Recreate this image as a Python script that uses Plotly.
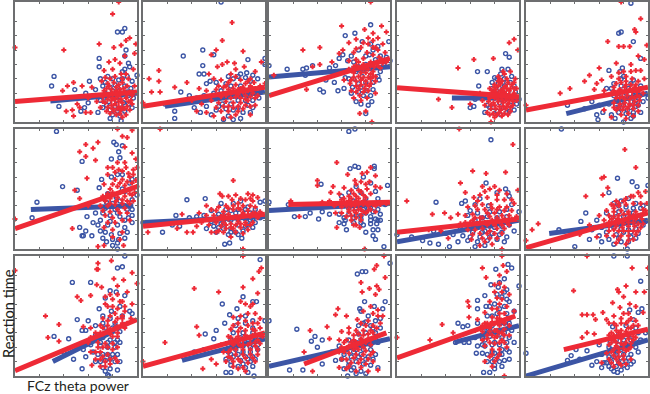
import plotly.graph_objects as go

# Values, in axis units (0-100 on both axes), as (power, RT) pairs.
B1 = [(84,75),(88,75),(90,78),(91,60),(69,53),(69,46),(32,38),(30,30),(36,13),(61,34),(49,27),(54,9),(100,39),(93,49),(90,44),(87,1),(90,55),(94,46),(88,42),(76,38),(70,36),(80,36),(85,35),(92,38),(96,34),(72,30),(78,29),(66,27),(84,29),(90,30),(95,28),(58,24),(64,22),(74,24),(81,23),(87,24),(93,22),(70,18),(77,17),(83,18),(89,16),(96,12),(72,12),(78,10),(84,9),(90,9),(80,6),(86,5),(57,12),(60,16),(97,20),(68,8)]
R1 = [(85,100),(80,90),(0,62),(40,60),(69,65),(91,68),(94,70),(99,65),(81,62),(87,64),(98,57),(90,55),(77,50),(82,52),(86,49),(48,33),(43,30),(39,26),(55,30),(63,29),(42,9),(48,5),(47,10),(58,8),(62,8),(51,15),(53,12),(73,43),(80,44),(87,40),(93,36),(97,44),(71,34),(76,32),(81,33),(85,31),(88,33),(92,30),(75,28),(79,27),(83,26),(86,27),(90,25),(94,25),(98,30),(72,21),(77,22),(80,20),(84,21),(87,19),(91,20),(95,18),(74,16),(79,14),(82,15),(85,13),(88,12),(92,13),(70,12),(75,9),(81,9),(86,7),(91,6),(67,17),(60,20)]
B2 = [(64,100),(49,60),(58,56),(33,55),(49,47),(86,52),(100,53),(100,48),(46,40),(50,40),(31,25),(26,9),(26,3),(85,41),(52,32),(55,34),(60,33),(70,38),(78,38),(84,37),(90,39),(94,36),(18,15),(38,22),(44,20),(50,22),(58,24),(64,26),(72,30),(80,30),(88,28),(94,27),(42,12),(47,8),(52,13),(56,6),(60,10),(65,15),(70,5),(74,10),(78,18),(82,8),(86,14),(90,18),(66,2),(74,2),(80,3),(88,8),(34,17),(95,20)]
R2 = [(73,83),(65,68),(60,60),(82,59),(56,56),(13,43),(5,36),(13,34),(7,25),(14,25),(26,29),(36,33),(0,16),(54,40),(61,46),(65,48),(69,50),(75,49),(76,44),(83,46),(97,50),(92,42),(72,40),(80,35),(86,34),(91,33),(58,36),(64,35),(70,33),(76,31),(82,29),(88,30),(46,28),(52,26),(60,27),(66,24),(72,25),(78,23),(84,22),(90,24),(94,22),(40,18),(48,15),(56,18),(62,16),(68,17),(74,16),(80,16),(86,18),(92,14),(44,9),(52,8),(58,5),(64,9),(70,9),(76,6),(82,11),(66,3),(88,6),(100,32)]
B3 = [(84,81),(71,74),(63,72),(99,67),(15,44),(31,45),(28,44),(36,47),(0,47),(42,27),(45,25),(57,26),(72,17),(80,7),(85,17),(100,51),(77,67),(84,65),(90,63),(74,60),(61,56),(68,55),(58,53),(65,51),(83,56),(92,55),(97,54),(50,45),(55,47),(60,42),(67,43),(74,46),(80,48),(88,47),(95,48),(47,35),(54,33),(63,37),(70,36),(77,38),(84,39),(90,38),(62,28),(69,29),(76,29),(81,26),(86,27),(91,35),(78,22),(84,22),(30,39)]
R3 = [(60,80),(28,60),(42,62),(84,100),(85,0),(75,7),(80,9),(93,80),(31,27),(4,39),(97,75),(66,66),(72,69),(79,77),(86,74),(90,70),(94,65),(82,70),(88,62),(61,60),(58,57),(70,58),(76,62),(81,58),(86,56),(91,54),(96,58),(36,46),(42,48),(52,50),(66,51),(72,52),(78,53),(84,50),(89,50),(94,49),(66,44),(70,41),(74,45),(78,44),(82,44),(86,42),(92,45),(62,35),(67,32),(72,34),(76,35),(80,34),(84,36),(88,34),(68,26),(72,25),(75,22),(79,28),(83,30),(70,20),(88,24)]
B4 = [(89,57),(92,54),(66,42),(74,42),(67,30),(86,44),(91,44),(60,12),(63,13),(100,19),(80,37),(85,40),(94,38),(78,28),(83,32),(90,33),(96,30),(76,20),(81,24),(86,26),(91,25),(95,21),(98,15),(74,14),(79,12),(84,16),(88,18),(93,14),(80,7),(85,6),(90,8),(72,8),(96,10),(70,22),(64,19)]
R4 = [(77,0),(63,52),(79,53),(50,45),(34,19),(45,12),(96,69),(92,66),(99,60),(60,15),(88,40),(93,42),(97,36),(84,36),(90,36),(80,31),(85,32),(89,30),(94,31),(98,28),(76,28),(81,27),(85,26),(88,25),(92,26),(96,24),(74,23),(78,22),(82,22),(86,21),(90,20),(94,20),(98,18),(75,17),(79,16),(83,17),(87,16),(91,15),(95,14),(72,14),(77,11),(81,11),(85,10),(89,11),(93,9),(82,6),(86,5),(76,6),(70,18),(68,24),(80,4)]
B5 = [(86,99),(76,74),(78,75),(88,67),(94,53),(68,43),(77,42),(79,45),(34,14),(59,2),(58,6),(80,0),(80,38),(88,35),(94,30),(100,20),(72,32),(78,30),(84,28),(90,25),(66,28),(72,22),(78,20),(84,20),(90,18),(96,17),(60,14),(68,15),(74,12),(80,14),(86,12),(92,14),(63,8),(70,6),(76,8),(82,7),(88,8),(94,8),(48,11),(54,17),(73,3),(86,3)]
R5 = [(78,100),(94,86),(89,77),(90,75),(99,64),(67,67),(76,63),(80,63),(85,63),(28,24),(36,28),(48,34),(52,39),(60,45),(74,49),(0,14),(92,55),(97,52),(86,48),(90,43),(94,43),(62,35),(58,32),(56,27),(64,26),(70,38),(76,36),(82,34),(87,36),(92,34),(97,36),(72,29),(77,27),(81,29),(85,27),(89,29),(93,26),(70,24),(75,23),(79,21),(83,22),(87,21),(91,22),(96,24),(72,16),(77,15),(81,16),(85,15),(89,17),(93,18),(74,10),(79,10),(83,11),(88,11),(64,10),(70,4),(82,3),(92,9)]
B6 = [(34,98),(55,73),(39,52),(18,39),(14,26),(81,89),(83,87),(88,86),(79,75),(84,0),(51,49),(85,81),(86,76),(55,11),(56,11),(53,18),(58,15),(63,11),(64,22),(59,27),(66,30),(75,39),(83,43),(90,48),(94,55),(88,62),(79,60),(71,58),(69,51),(96,41),(100,45),(74,34),(82,33),(90,36),(96,33),(70,24),(78,28),(86,27),(93,26),(70,15),(76,20),(84,20),(90,18),(96,22),(72,9),(79,12),(85,8),(75,6),(80,3),(84,5),(90,9),(68,20)]
R6 = [(84,100),(96,99),(68,89),(58,87),(53,81),(64,84),(58,77),(66,74),(59,59),(49,49),(47,17),(68,2),(73,3),(89,3),(0,25),(92,93),(88,94),(90,85),(96,80),(99,75),(100,68),(97,62),(80,68),(85,66),(91,68),(76,62),(82,58),(88,58),(94,60),(99,57),(73,54),(78,50),(84,52),(90,53),(95,50),(100,52),(72,44),(78,42),(84,43),(90,44),(96,45),(70,36),(76,36),(82,37),(88,38),(94,38),(74,28),(80,26),(86,30),(92,30),(73,18),(80,16),(88,14),(60,36),(53,42)]
B7 = [(16,14),(36,41),(51,42),(27,28),(67,4),(71,5),(81,9),(96,39),(100,40),(64,38),(0,22),(38,26),(44,27),(50,28),(56,23),(62,29),(68,33),(74,38),(80,40),(86,35),(92,33),(58,19),(64,21),(70,25),(76,30),(82,28),(88,24),(94,28),(52,17),(60,14),(66,17),(72,17),(78,20),(84,19),(90,18),(56,32),(70,12),(76,14),(82,15),(24,20),(30,19),(96,26)]
R7 = [(14,100),(82,0),(74,57),(4,14),(28,17),(36,14),(41,14),(63,46),(90,45),(32,29),(65,44),(80,42),(86,46),(94,43),(73,41),(78,38),(84,41),(90,40),(52,36),(56,33),(62,35),(68,36),(74,33),(80,33),(86,32),(92,35),(96,31),(46,30),(52,28),(58,28),(64,27),(70,29),(76,27),(82,27),(88,27),(94,26),(48,22),(54,20),(60,22),(66,22),(72,21),(78,23),(84,22),(90,22),(56,14),(62,15),(68,17),(74,17),(80,18),(86,16),(44,19),(72,10)]
B8 = [(66,98),(71,100),(71,69),(67,67),(74,68),(87,69),(87,67),(43,54),(98,53),(16,37),(21,27),(41,25),(86,11),(95,2),(64,16),(58,22),(62,21),(0,39),(78,60),(84,55),(72,52),(76,47),(88,48),(66,47),(60,44),(70,40),(80,42),(90,42),(96,37),(54,37),(62,36),(72,34),(82,34),(90,33),(44,31),(50,29),(58,29),(66,29),(76,28),(84,27),(92,29),(34,30),(30,27),(63,24),(70,22),(76,22),(84,21),(89,21),(90,16),(78,20),(88,25),(92,24)]
R8 = [(56,72),(84,68),(40,57),(40,53),(25,27),(79,0),(56,18),(65,62),(77,63),(81,64),(88,61),(53,52),(51,47),(18,40),(71,57),(76,56),(83,56),(88,52),(92,51),(62,51),(68,49),(74,49),(81,50),(58,46),(66,44),(72,44),(78,45),(84,46),(60,41),(66,40),(72,40),(78,40),(84,38),(90,38),(97,38),(44,39),(50,40),(54,36),(60,35),(66,33),(71,36),(76,33),(82,32),(68,28),(72,26),(76,28),(80,30),(70,20),(75,18),(55,30),(64,27),(88,31)]
B9 = [(77,91),(73,55),(32,39),(89,50),(91,47),(92,44),(53,38),(56,40),(68,42),(82,47),(0,12),(21,7),(27,5),(34,4),(43,2),(96,15),(64,37),(75,36),(94,37),(100,31),(58,28),(66,30),(74,27),(82,26),(90,27),(52,17),(60,19),(68,20),(76,19),(84,21),(92,20),(46,12),(54,11),(62,14),(70,14),(78,13),(86,14),(50,6),(58,7),(66,6),(74,7),(82,8),(90,10),(40,13),(30,15),(12,10),(64,2),(72,3)]
R9 = [(51,100),(95,87),(62,65),(73,63),(89,64),(52,55),(8,40),(29,29),(39,30),(99,49),(80,52),(56,47),(63,43),(86,0),(76,50),(84,49),(90,46),(68,45),(74,43),(82,41),(88,41),(94,41),(58,35),(64,36),(70,37),(77,37),(84,35),(90,35),(96,38),(44,26),(50,29),(56,28),(62,29),(68,26),(74,30),(80,30),(86,28),(92,28),(52,21),(60,22),(66,21),(72,22),(78,24),(84,23),(90,22),(58,16),(64,16),(70,17),(76,15),(82,17),(88,17),(70,9),(76,9),(82,9),(68,3),(26,16),(36,15),(42,9),(61,8)]
B10 = [(29,100),(75,59),(87,56),(91,52),(100,53),(68,47),(49,30),(45,23),(40,2),(83,0),(27,16),(58,24),(66,30),(72,38),(78,40),(84,42),(90,38),(96,36),(62,18),(70,26),(76,31),(82,30),(88,30),(94,28),(54,16),(60,11),(66,14),(72,18),(78,22),(84,23),(90,21),(96,20),(62,6),(68,8),(74,12),(80,14),(86,14),(92,13),(72,4),(78,6),(84,6),(90,9),(52,8)]
R10 = [(81,83),(90,68),(62,59),(64,60),(49,44),(67,51),(63,45),(10,21),(5,16),(0,7),(98,48),(92,47),(86,44),(80,40),(74,40),(70,37),(76,36),(82,37),(88,38),(94,38),(99,38),(60,28),(66,32),(72,31),(78,32),(84,31),(90,31),(96,33),(64,24),(70,25),(75,25),(80,24),(85,26),(90,25),(95,25),(56,18),(62,19),(68,19),(74,19),(79,18),(84,19),(89,19),(94,18),(58,10),(66,11),(72,11),(78,11),(84,11),(90,12),(74,5),(82,4),(52,20),(44,12)]
B11 = [(47,78),(62,78),(90,100),(84,90),(88,91),(32,33),(44,31),(51,47),(69,56),(55,6),(77,0),(78,71),(83,70),(74,65),(90,67),(94,54),(86,58),(79,54),(96,52),(72,50),(60,46),(66,42),(55,38),(58,38),(74,40),(82,44),(90,43),(86,37),(66,34),(72,32),(78,30),(84,30),(62,26),(70,25),(76,24),(82,24),(56,22),(64,20),(72,18),(80,18),(58,16),(66,12),(74,13),(82,12),(72,7),(78,6),(84,5),(48,14),(40,20),(76,1)]
R11 = [(0,88),(25,50),(36,43),(27,32),(36,29),(68,94),(67,89),(68,89),(79,96),(96,86),(100,77),(81,81),(89,80),(51,66),(54,63),(62,67),(67,76),(71,74),(63,9),(70,8),(84,75),(74,66),(80,64),(88,62),(92,70),(96,60),(84,56),(90,54),(95,48),(76,58),(72,48),(78,50),(84,48),(70,42),(76,42),(82,40),(88,44),(56,41),(62,40),(66,36),(72,35),(78,35),(84,36),(60,28),(68,28),(74,27),(80,27),(62,20),(70,20),(76,18),(66,14),(74,12),(82,15),(78,10)]
B12 = [(96,97),(65,60),(90,62),(93,62),(82,66),(71,51),(77,56),(67,44),(60,38),(51,35),(58,31),(33,16),(68,3),(91,0),(100,46),(84,50),(90,46),(76,42),(82,36),(90,36),(95,33),(72,30),(78,28),(84,28),(90,26),(70,20),(76,22),(82,20),(88,20),(94,22),(68,14),(74,16),(80,13),(86,14),(92,14),(72,9),(78,8),(84,7),(90,8),(72,3),(86,3),(42,20),(50,22)]
R12 = [(82,100),(95,87),(97,90),(42,73),(62,70),(18,28),(44,41),(46,34),(60,10),(49,6),(0,12),(82,74),(90,81),(94,69),(74,49),(88,58),(80,62),(92,52),(96,48),(78,44),(84,46),(90,44),(72,39),(78,37),(84,38),(90,39),(96,40),(70,33),(76,31),(82,30),(88,31),(94,30),(98,33),(68,27),(74,26),(80,25),(86,26),(92,25),(96,27),(70,20),(76,18),(82,18),(88,18),(94,18),(68,12),(74,12),(80,12),(86,11),(92,12),(78,6),(84,4),(56,14),(64,26)]
B13 = [(100,94),(73,85),(77,87),(80,87),(96,62),(79,62),(75,56),(76,54),(23,39),(38,33),(35,29),(44,30),(40,24),(44,10),(17,5),(28,5),(65,0),(0,46),(87,58),(94,56),(55,13),(82,50),(88,46),(92,48),(78,44),(84,42),(74,35),(80,36),(88,36),(66,30),(72,28),(78,26),(84,26),(90,28),(58,25),(64,22),(70,20),(76,18),(82,16),(88,18),(60,14),(66,12),(72,12),(78,10),(84,9),(62,6),(68,5),(76,4),(80,2),(90,7),(52,20)]
R13 = [(95,100),(87,89),(89,92),(96,82),(76,78),(89,75),(83,73),(91,72),(77,70),(88,68),(57,56),(55,51),(64,50),(48,41),(34,38),(50,31),(29,20),(36,4),(73,47),(82,46),(90,50),(86,52),(94,50),(60,37),(66,36),(72,38),(78,38),(84,38),(89,40),(58,30),(64,30),(70,30),(76,31),(82,31),(88,32),(60,24),(66,25),(72,24),(78,24),(84,26),(66,19),(72,18),(78,18),(84,18),(60,14),(68,11),(74,11),(80,10),(86,12),(58,7),(64,6),(72,4),(82,4),(90,5)]
B14 = [(81,89),(91,93),(94,90),(100,75),(77,76),(83,74),(72,67),(66,63),(66,56),(73,58),(50,44),(54,41),(58,42),(48,28),(55,28),(59,28),(71,3),(76,3),(80,6),(86,8),(65,19),(70,19),(88,81),(90,72),(86,66),(92,62),(80,60),(74,50),(82,52),(90,52),(96,54),(66,44),(72,40),(78,42),(84,44),(92,44),(64,32),(70,32),(76,33),(82,34),(88,36),(94,38),(66,25),(72,25),(78,26),(84,26),(90,28),(96,28),(74,18),(80,19),(86,18),(92,20),(78,12),(84,12),(88,13),(80,9)]
R14 = [(86,100),(70,90),(87,92),(73,82),(84,84),(58,62),(59,58),(59,49),(37,43),(46,36),(27,30),(88,0),(0,32),(90,87),(84,77),(88,74),(80,70),(86,64),(92,68),(76,62),(82,56),(90,58),(96,54),(72,53),(78,49),(84,48),(90,48),(66,47),(72,44),(78,45),(84,42),(88,44),(64,38),(70,37),(76,37),(82,38),(88,39),(74,31),(80,32),(86,30),(72,25),(78,22),(84,22),(90,24),(76,16),(82,15),(78,8),(92,34)]
B15 = [(94,79),(83,100),(72,100),(95,56),(85,55),(34,13),(37,17),(41,22),(54,9),(75,3),(70,6),(83,7),(50,21),(60,26),(69,28),(71,41),(88,47),(0,19),(92,53),(82,42),(90,40),(76,35),(84,34),(92,36),(98,36),(70,22),(76,26),(82,26),(88,27),(94,30),(62,18),(68,16),(74,18),(80,18),(86,18),(92,20),(58,12),(64,11),(70,12),(76,11),(82,12),(88,12),(62,7),(68,8),(78,5),(44,14)]
R15 = [(50,100),(87,90),(100,90),(39,71),(46,51),(50,51),(55,51),(57,47),(63,53),(46,32),(50,36),(56,35),(75,72),(82,75),(97,70),(90,70),(71,61),(77,57),(85,60),(66,47),(62,11),(76,70),(80,66),(84,52),(90,46),(96,53),(72,50),(78,48),(68,44),(74,42),(82,44),(86,40),(92,42),(70,36),(76,36),(82,37),(88,36),(72,30),(78,31),(84,31),(90,32),(68,26),(74,25),(80,26),(86,27),(70,20),(76,20),(82,21),(68,14),(74,14),(80,14),(86,14),(72,8),(78,9),(60,28),(66,19)]

# Further marks from the dense part of each panel
XB1 = [(74,33),(82,31),(88,36),(73,20),(80,26),(86,21),(92,25),(75,14),(82,13),(88,12),(93,15),(78,3),(85,11),(67,22)]
XR1 = [(73,26),(77,30),(80,24),(83,29),(86,23),(89,28),(92,23),(96,22),(76,19),(79,18),(82,19),(85,17),(88,16),(93,17),(96,15),(72,17),(76,12),(80,11),(84,11),(87,10),(90,11),(94,10),(78,7),(83,6),(88,4),(74,37),(82,38),(88,36),(78,36),(91,40)]
XB2 = [(62,20),(68,22),(74,22),(80,24),(86,22),(92,24),(62,13),(68,11),(72,15),(78,12),(84,18),(90,12),(68,32),(74,36),(80,40),(88,34)]
XR2 = [(68,30),(72,35),(76,38),(80,28),(84,32),(88,36),(92,28),(96,30),(62,30),(66,29),(70,27),(74,28),(78,27),(82,25),(86,26),(90,28),(64,21),(68,22),(72,20),(76,21),(80,20),(84,19),(88,21),(92,20),(60,12),(66,13),(70,13),(74,12),(78,13),(84,14),(88,13),(72,4),(78,9)]
XB3 = [(70,50),(78,43),(84,45),(88,52),(72,42),(80,33),(86,33),(92,42),(66,36),(74,32),(80,55),(86,60),(68,24),(74,25),(82,14),(76,15)]
XR3 = [(70,46),(74,50),(78,48),(80,46),(84,47),(87,46),(90,47),(93,52),(97,50),(72,47),(76,41),(80,41),(84,40),(88,38),(70,37),(74,38),(78,37),(82,37),(86,38),(68,35),(72,30),(76,31),(80,31),(84,32),(74,28),(78,25),(82,26),(86,62),(90,60),(82,65),(78,66),(72,61),(86,68),(76,18),(81,20)]
XB4 = [(82,36),(88,36),(93,33),(78,33),(84,28),(88,30),(80,20),(84,22),(92,20),(97,25),(76,12),(82,9),(87,12),(92,9)]
XR4 = [(83,34),(86,34),(91,33),(96,33),(78,26),(80,29),(83,30),(87,28),(90,28),(93,28),(96,28),(78,24),(80,25),(83,24),(86,24),(89,23),(92,23),(95,22),(97,21),(76,20),(80,20),(83,19),(86,19),(89,18),(92,18),(95,17),(77,14),(80,14),(84,13),(87,13),(90,13),(93,12),(74,8),(79,7),(84,8),(88,7),(91,6),(83,38),(87,42)]
XB5 = [(76,24),(82,24),(88,22),(92,20),(74,17),(80,18),(86,17),(90,13),(76,12),(83,10),(88,5),(70,28),(86,32),(78,36)]
XR5 = [(74,32),(78,33),(82,31),(86,31),(90,31),(94,28),(72,26),(76,26),(79,25),(83,25),(87,25),(91,25),(74,20),(77,20),(81,19),(85,19),(89,20),(93,21),(72,12),(76,12),(80,13),(84,13),(88,14),(92,14),(78,6),(84,7),(88,5),(80,42),(86,42),(76,41),(82,38)]
XB6 = [(76,46),(80,38),(86,40),(92,33),(72,30),(78,23),(84,30),(90,24),(96,28),(74,14),(80,8),(86,13),(92,14),(88,50),(96,58),(84,62)]
XR6 = [(76,68),(82,64),(88,65),(93,63),(97,66),(80,54),(86,55),(92,56),(96,55),(76,46),(80,47),(86,47),(90,49),(94,46),(98,47),(74,40),(78,38),(83,40),(88,41),(92,40),(97,40),(72,32),(78,31),(84,33),(90,34),(76,22),(82,22),(88,24),(94,24),(80,10),(86,8),(90,72),(84,72)]
XB7 = [(60,24),(66,28),(72,32),(78,33),(84,33),(88,30),(66,22),(72,24),(78,25),(84,25),(90,25),(62,18),(72,14),(78,12),(86,20),(92,22)]
XR7 = [(60,32),(66,31),(70,34),(74,36),(78,34),(82,36),(88,36),(92,30),(62,25),(66,28),(70,25),(74,26),(78,25),(82,30),(86,28),(90,30),(64,19),(68,20),(72,18),(76,20),(80,21),(84,20),(88,20),(76,14),(82,13),(60,14),(66,14),(70,44),(76,45),(88,42)]
XB8 = [(68,38),(74,36),(80,30),(86,31),(66,34),(72,28),(78,33),(84,35),(62,26),(70,26),(76,25),(84,24),(90,24),(80,14),(86,16),(88,8)]
XR8 = [(64,36),(68,36),(70,38),(74,37),(78,37),(82,36),(86,37),(62,42),(68,42),(74,42),(80,43),(70,46),(76,48),(66,31),(70,32),(74,33),(78,31),(84,33),(88,36),(68,24),(72,30),(76,24),(72,20),(60,30),(64,39),(92,37),(72,54),(80,54)]
XB9 = [(64,24),(70,26),(76,31),(84,31),(90,33),(66,18),(72,15),(80,18),(86,19),(92,23),(60,10),(68,10),(76,10),(84,12),(88,6),(60,32)]
XR9 = [(66,33),(72,33),(78,34),(82,33),(88,32),(94,32),(64,26),(70,26),(76,27),(82,26),(88,25),(94,25),(98,27),(56,22),(62,24),(68,22),(74,20),(80,20),(86,20),(92,20),(62,12),(68,13),(74,13),(80,13),(86,13),(72,6),(78,4),(72,48),(70,52),(82,45),(66,40)]
XB10 = [(76,36),(82,35),(88,34),(94,34),(74,27),(80,27),(86,26),(92,25),(98,23),(72,24),(78,17),(84,16),(90,17),(66,20),(76,9),(86,10)]
XR10 = [(72,36),(76,38),(82,42),(88,44),(94,44),(72,34),(76,28),(80,29),(84,29),(88,28),(92,28),(98,32),(68,28),(72,27),(76,22),(80,21),(84,22),(88,22),(92,21),(96,21),(68,15),(72,16),(76,15),(80,15),(84,15),(88,15),(92,15),(76,8),(84,7),(88,8),(68,22)]
XB11 = [(76,36),(80,40),(84,40),(88,50),(72,44),(78,48),(70,28),(76,28),(82,28),(86,28),(68,18),(76,18),(84,18),(70,12),(78,14),(74,4),(86,12)]
XR11 = [(84,68),(78,68),(74,60),(80,58),(86,62),(90,58),(82,52),(88,50),(76,46),(82,45),(88,48),(92,44),(72,40),(78,39),(84,41),(90,40),(70,36),(76,38),(80,33),(84,33),(68,24),(72,24),(76,24),(80,22),(84,24),(66,20),(72,16),(78,14),(84,12),(70,14),(74,8),(62,32)]
XB12 = [(78,48),(84,44),(90,40),(74,36),(80,32),(86,32),(92,30),(70,26),(76,26),(82,25),(88,24),(94,26),(72,18),(78,18),(84,16),(90,16),(72,12),(82,10),(88,12)]
XR12 = [(84,60),(90,60),(86,52),(80,50),(94,44),(74,42),(80,40),(86,42),(92,38),(72,32),(78,33),(84,34),(90,34),(96,34),(74,28),(78,27),(82,26),(88,27),(92,28),(72,22),(76,22),(82,22),(88,22),(94,22),(72,15),(78,14),(84,15),(90,15),(74,8),(82,7),(70,16),(66,20)]
XB13 = [(74,42),(80,45),(86,40),(92,40),(70,28),(76,30),(82,30),(88,30),(66,24),(72,22),(78,22),(84,22),(62,18),(68,16),(74,16),(80,14),(70,7),(86,14),(66,9),(72,2)]
XR13 = [(78,54),(84,58),(90,55),(76,44),(80,42),(86,42),(92,44),(66,40),(70,34),(74,35),(78,34),(82,35),(86,36),(62,28),(68,28),(72,28),(76,27),(80,28),(84,30),(58,20),(62,20),(70,22),(74,22),(80,21),(86,20),(64,14),(70,15),(76,14),(82,14),(66,8),(76,7)]
XB14 = [(78,50),(84,56),(88,58),(92,48),(76,40),(82,38),(88,44),(70,26),(74,36),(80,28),(86,32),(92,32),(72,30),(78,20),(84,18),(90,22),(74,12),(80,14),(86,22),(92,14),(84,78),(88,70),(90,64),(82,68),(76,58)]
XR14 = [(80,76),(86,70),(82,65),(84,60),(78,56),(82,48),(86,46),(74,44),(80,44),(84,52),(88,52),(70,42),(76,40),(80,38),(84,36),(88,34),(74,34),(78,34),(82,33),(86,36),(70,30),(76,28),(80,27),(84,28),(88,28),(78,18),(84,18),(72,12),(80,12),(92,42)]
XB15 = [(74,30),(80,30),(86,30),(92,28),(68,24),(74,20),(78,22),(84,24),(90,24),(72,16),(78,15),(84,15),(66,11),(74,8),(80,9),(86,10),(72,4)]
XR15 = [(72,44),(78,44),(84,46),(86,48),(74,38),(78,38),(84,40),(88,42),(68,34),(72,34),(76,33),(80,34),(84,34),(88,33),(70,28),(74,28),(78,27),(82,28),(86,24),(72,22),(76,23),(80,23),(84,22),(72,17),(76,16),(80,17),(70,11),(76,11),(82,10),(88,30),(80,52),(90,58)]

BLUE_POINTS = [B1+XB1,B2+XB2,B3+XB3,B4+XB4,B5+XB5,B6+XB6,B7+XB7,B8+XB8,B9+XB9,B10+XB10,B11+XB11,B12+XB12,B13+XB13,B14+XB14,B15+XB15]
RED_POINTS = [R1+XR1,R2+XR2,R3+XR3,R4+XR4,R5+XR5,R6+XR6,R7+XR7,R8+XR8,R9+XR9,R10+XR10,R11+XR11,R12+XR12,R13+XR13,R14+XR14,R15+XR15]

# Regression lines: (x start, y start, x end, y end) for each panel
BLUE_FITS = [(29,17.5,100,24),(18,13,100,25),(0,37.5,100,46),(45,20,100,20),(33,7,100,24),(13,33,97,36),(0,22,100,27),(0,32,100,38),(0,6,100,24),(19,13,100,24),(31,12,82,38),(32,13,100,31),(0,8,100,31),(47,28,100,42),(0,0,100,30)]
RED_FITS = [(0,17,100,25),(0,13,100,29),(0,22,100,53),(0,28.6,100,21),(0,10,100,29),(0,17,100,52),(0,19,100,29),(16,37,100,39),(0,14,100,25),(0,1,100,30),(0,4.5,100,47),(0,8,100,36),(29,10,97,36),(0,15,97,50),(31,22,100,39)]

X_TICKS = [0,20,40,60,80,100]
Y_TICKS = [0,12,24,36,48,60,72,84,100]
COL_PX = [(15,137),(143,265),(269,390),(397,519),(526,648)]
ROW_PX = [(2,122),(129,249),(256,376)]
W, H = 650, 394
BLUE, RED, GRAY = "#3c55a5", "#ee2a36", "#6d6e70"

fig = go.Figure()
for i in range(15):
    r, c = divmod(i, 5)
    ax = "" if i == 0 else str(i + 1)
    xa, ya = "x" + ax, "y" + ax
    bx, by = zip(*BLUE_POINTS[i])
    rx, ry = zip(*RED_POINTS[i])
    bf, rf = BLUE_FITS[i], RED_FITS[i]
    fig.add_trace(go.Scatter(x=bx, y=by, mode="markers", xaxis=xa, yaxis=ya, cliponaxis=False,
                             marker=dict(symbol="circle-open", size=4, color=BLUE, line=dict(width=1.4, color=BLUE))))
    fig.add_trace(go.Scatter(x=[bf[0], bf[2]], y=[bf[1], bf[3]], mode="lines", xaxis=xa, yaxis=ya,
                             line=dict(color=BLUE, width=5)))
    fig.add_trace(go.Scatter(x=rx, y=ry, mode="markers", xaxis=xa, yaxis=ya, cliponaxis=False,
                             marker=dict(symbol="cross-thin-open", size=3.6, color=RED, line=dict(width=2, color=RED))))
    fig.add_trace(go.Scatter(x=[rf[0], rf[2]], y=[rf[1], rf[3]], mode="lines", xaxis=xa, yaxis=ya,
                             line=dict(color=RED, width=5)))
    common = dict(range=[0, 100], showgrid=False, zeroline=False, showticklabels=False, showline=True,
                  linecolor=GRAY, linewidth=2, mirror="allticks", ticks="inside", ticklen=2, tickwidth=1,
                  tickcolor=GRAY)
    x0, x1 = COL_PX[c]
    y0, y1 = ROW_PX[r]
    fig.update_layout(**{
        "xaxis" + ax: dict(domain=[x0 / W, x1 / W], anchor=ya, tickvals=X_TICKS, **common),
        "yaxis" + ax: dict(domain=[1 - y1 / H, 1 - y0 / H], anchor=xa, tickvals=Y_TICKS, **common),
    })

fig.update_layout(
    width=W, height=H, margin=dict(l=0, r=0, t=0, b=0), showlegend=False,
    paper_bgcolor="white", plot_bgcolor="white",
    font=dict(family="Lato", color="#231f20"),
    annotations=[
        dict(text="Reaction time", x=8 / W, y=1 - 314 / H, xref="paper", yref="paper", textangle=-90,
             showarrow=False, font=dict(size=14.6), xanchor="center", yanchor="middle"),
        dict(text="FCz theta power", x=77.5 / W, y=1 - 385 / H, xref="paper", yref="paper",
             showarrow=False, font=dict(size=14), xanchor="center", yanchor="middle"),
    ],
)
fig.write_html("out.html", post_script="document.body.style.margin='0';", config=dict(displayModeBar=False))
